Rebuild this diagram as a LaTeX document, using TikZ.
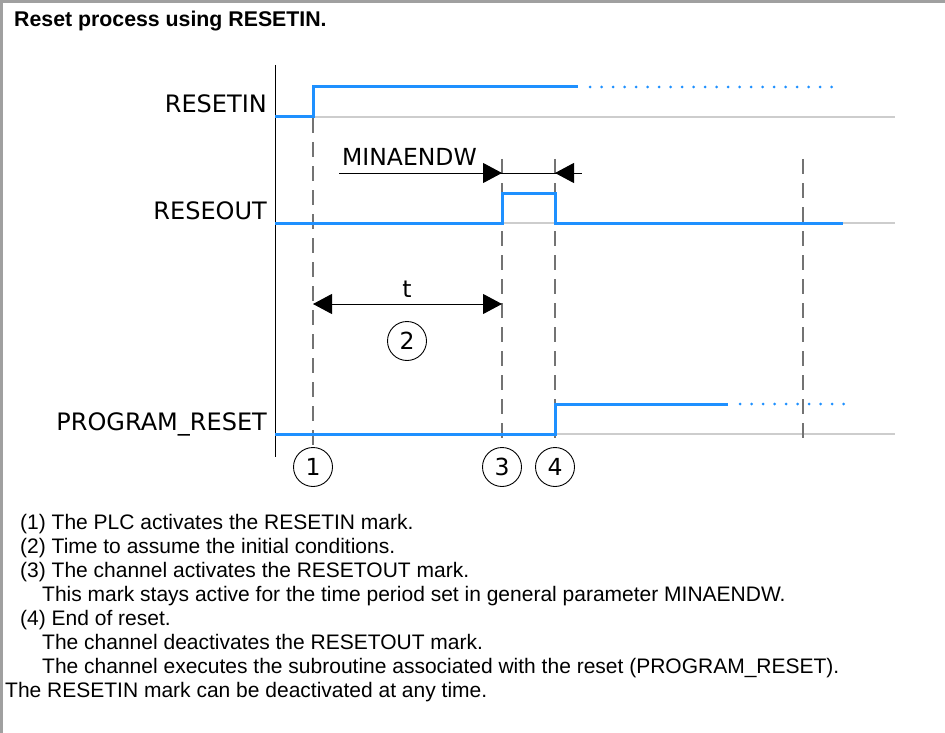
\documentclass[tikz,border=0pt]{standalone}
\usepackage{fontspec}
\setmainfont{Liberation Sans}
\newfontfamily\sigfont{DejaVu Sans}
\newfontfamily\notefont{Liberation Sans}
\usetikzlibrary{arrows.meta}
\definecolor{sigblue}{RGB}{30,144,255}
\definecolor{framegray}{RGB}{160,160,160}
\definecolor{basegray}{RGB}{205,205,205}
\definecolor{markgray}{RGB}{115,115,115}
\begin{document}
\begin{tikzpicture}[x=1pt,y=-1pt,
  sig/.style={sigblue,line width=3pt},
  sigdots/.style={sigblue,line width=3pt,line cap=round,dash pattern=on 0pt off 11.5pt},
  baseline/.style={basegray,line width=2pt},
  timemark/.style={markgray,line width=1.6pt,dash pattern=on 15pt off 9pt},
  siglabel/.style={anchor=base east,font=\sigfont\fontsize{24}{28}\selectfont,inner sep=0pt},
  stepnum/.style={circle,draw,line width=0.9pt,minimum size=39pt,inner sep=0pt,font=\sigfont\fontsize{23.5}{28}\selectfont},
  dimtip/.style={-{Triangle[length=19pt,width=20pt]}},
  note/.style={anchor=base west,font=\notefont\fontsize{21}{24}\selectfont,inner sep=0pt}]
\useasboundingbox (0,0) rectangle (945,733);
% frame, top and left only
\draw[framegray,line width=3pt] (1.5,733) -- (1.5,1.5) -- (945,1.5);
\node[anchor=base west,font=\bfseries\fontsize{21.3}{24}\selectfont,inner sep=0pt] (title) at (14,27) {Reset process using RESETIN.};
% time marks
\coordinate (t1) at (313,0);
\coordinate (t3) at (502,0);
\coordinate (t4) at (555,0);
\coordinate (t5) at (803,0);
\draw[black,line width=1pt] (275,65) -- (275,457);
\foreach \y in {117,223,434} \draw[baseline] (275,\y) -- (895,\y);
\draw[timemark] (t1|-0,118) -- (t1|-0,447);
\foreach \t in {t3,t4} \draw[timemark] (\t|-0,159) -- (\t|-0,447);
\draw[timemark] (t5|-0,159) -- (t5|-0,445);
% signals
\node[siglabel] (resetin) at (267,113) {RESETIN};
\node[siglabel] (reseout) at (267,219) {RESEOUT};
\node[siglabel] (progreset) at (267,430) {PROGRAM\_RESET};
\draw[sig] (275,117) -- (t1|-0,117) -- (t1|-0,87) -- (578,87);
\draw[sigdots] (590,87) -- (834,87);
\draw[sig] (275,223) -- (t3|-0,223) -- (t3|-0,193) -- (t4|-0,193) -- (t4|-0,223) -- (843,223);
\draw[sig] (275,434) -- (t4|-0,434) -- (t4|-0,404) -- (728,404);
\draw[sigdots] (740,404) -- (844,404);
% MINAENDW and t
\node[anchor=base west,font=\sigfont\fontsize{23.5}{28}\selectfont,inner sep=0pt] (minaendw) at (342,165) {MINAENDW};
\draw[black,line width=1pt] (339,173) -- (582,173);
\draw[dimtip,line width=1pt] (480,173) -- (t3|-0,173);
\draw[dimtip,line width=1pt] (577,173) -- (t4|-0,173);
\draw[{Triangle[length=19pt,width=20pt]}-{Triangle[length=19pt,width=20pt]},line width=1pt] (t1|-0,304) -- (t3|-0,304);
\node[anchor=base,font=\sigfont\fontsize{23.5}{28}\selectfont,inner sep=0pt] (tlabel) at (407,297) {t};
\node[stepnum] (n2) at (407,341) {2};
\foreach \t/\n in {t1/1,t3/3,t4/4} \node[stepnum] (n\n) at (\t|-0,467) {\n};
% explanations
\foreach \y/\x/\txt in {529/20/{(1) The PLC activates the RESETIN mark.},
  553/20/{(2) Time to assume the initial conditions.},
  577/20/{(3) The channel activates the RESETOUT mark.},
  601/42/{This mark stays active for the time period set in general parameter MINAENDW.},
  625/20/{(4) End of reset.},
  649/42/{The channel deactivates the RESETOUT mark.},
  673/42/{The channel executes the subroutine associated with the reset (PROGRAM\_RESET).},
  697/5/{The RESETIN mark can be deactivated at any time.}}
  \node[note] (note\y) at (\x,\y) {\txt};
\end{tikzpicture}
\end{document}
